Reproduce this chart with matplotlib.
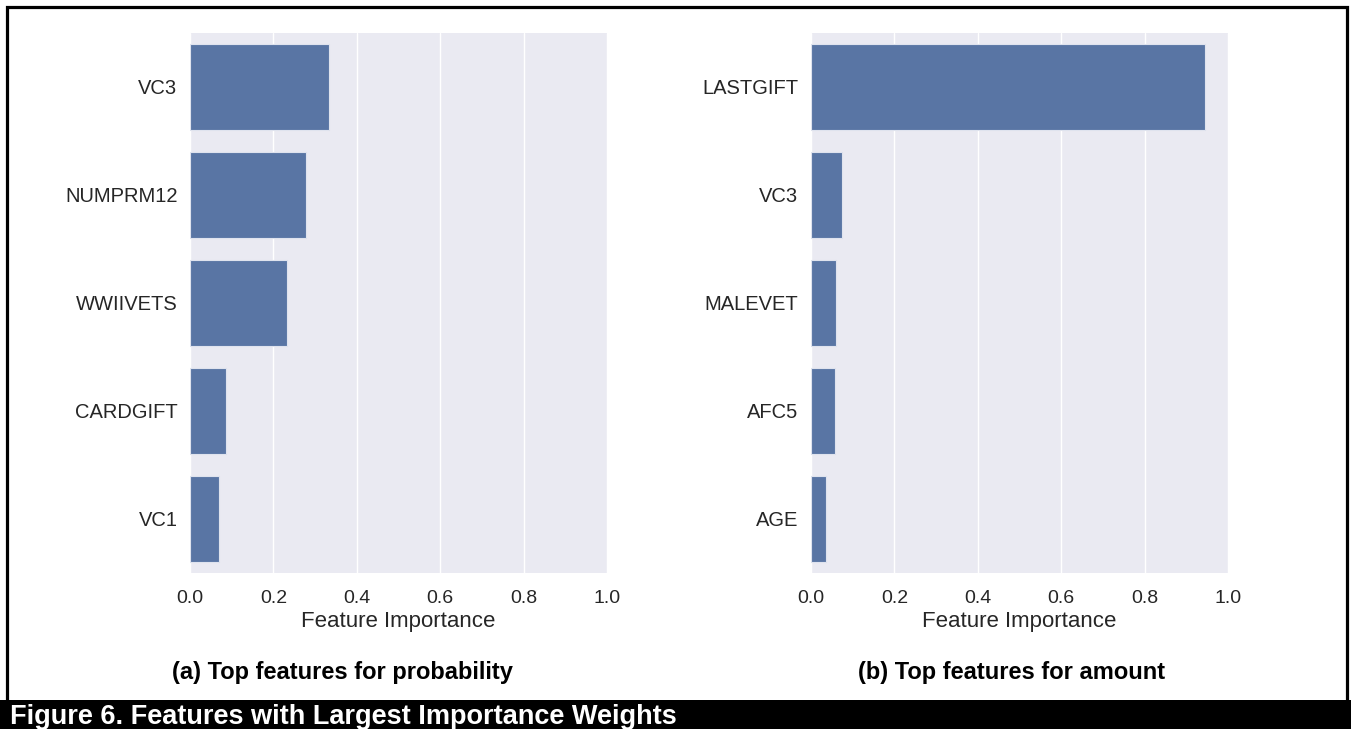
import matplotlib
matplotlib.use("Agg")
import matplotlib.pyplot as plt
import seaborn as sns
from matplotlib.patches import Rectangle

# Feature importances for the two models
prob_features = ["VC3", "NUMPRM12", "WWIIVETS", "CARDGIFT", "VC1"]
prob_importance = [0.333, 0.278, 0.233, 0.086, 0.070]

amount_features = ["LASTGIFT", "VC3", "MALEVET", "AFC5", "AGE"]
amount_importance = [0.945, 0.074, 0.060, 0.058, 0.036]

captions = ["(a) Top features for probability", "(b) Top features for amount"]
figure_title = "Figure 6. Features with Largest Importance Weights"

sns.set_theme(style="darkgrid")
plt.rcParams["font.family"] = ["Liberation Sans", "DejaVu Sans"]

W, H = 1351, 729
fig = plt.figure(figsize=(W / 100, H / 100), dpi=100)
fig.patch.set_facecolor("white")

bar_color = "#5975a4"


def draw_panel(left_px, features, values):
    ax = fig.add_axes([left_px / W, (H - 573) / H, 417 / W, 540 / H])
    sns.barplot(x=values, y=features, ax=ax, color=bar_color, orient="h",
                edgecolor="#dfe3ee", linewidth=0.8, saturation=1)
    ax.set_xlim(0, 1.0)
    ax.set_xticks([0.0, 0.2, 0.4, 0.6, 0.8, 1.0])
    ax.set_xticklabels(["0.0", "0.2", "0.4", "0.6", "0.8", "1.0"])
    ax.grid(axis="y", visible=False)
    ax.grid(axis="x", color="white", linewidth=1.0)
    ax.tick_params(axis="both", length=0, labelcolor="#262626")
    ax.tick_params(axis="y", pad=9, labelsize=14.5)
    ax.tick_params(axis="x", pad=12, labelsize=14)
    ax.set_xlabel("Feature Importance", fontsize=16, color="#262626", labelpad=3)
    ax.set_ylabel("")
    for s in ax.spines.values():
        s.set_visible(False)
    return ax


draw_panel(190, prob_features, prob_importance)
draw_panel(811, amount_features, amount_importance)

# panel captions
fig.text(342 / W, (H - 673) / H, captions[0], ha="center", va="center",
         fontsize=17, fontweight="bold", color="black")
fig.text(1012 / W, (H - 673) / H, captions[1], ha="center", va="center",
         fontsize=17, fontweight="bold", color="black")

# frame around the figure and the black caption banner
fig.add_artist(Rectangle((7 / W, 0), 1340 / W, (H - 7) / H, transform=fig.transFigure,
                         fill=False, edgecolor="black", linewidth=2.3))
fig.add_artist(Rectangle((0, 0), 1, 29 / H, transform=fig.transFigure,
                         facecolor="black", edgecolor="none"))
fig.text(10 / W, 5.5 / H, figure_title, ha="left", va="baseline",
         fontsize=19.5, fontweight="bold", color="white")

fig.savefig("out.png", dpi=100, facecolor="white")
